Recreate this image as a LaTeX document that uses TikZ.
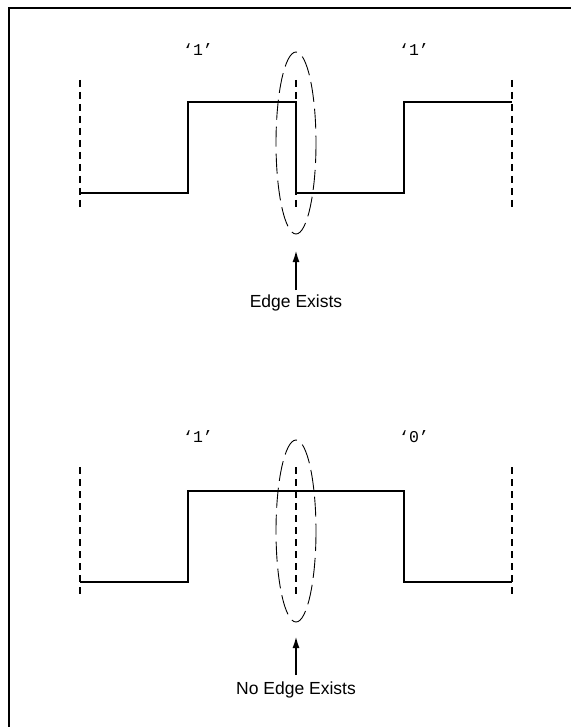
\documentclass[tikz,border=0pt]{standalone}
\usepackage{fontspec}
\setmainfont{Liberation Sans}
\newfontfamily\monof{Liberation Mono}
\usetikzlibrary{arrows.meta}
\begin{document}
\begin{tikzpicture}[x=1pt,y=-1pt,
  wave/.style={line width=2pt},
  marker/.style={line width=2pt,dash pattern=on 7pt off 5pt},
  ring/.style={line width=0.9pt,dash pattern=on 20pt off 7pt},
  bit/.style={font=\monof\fontsize{16.5}{18}\selectfont},
  caption/.style={font=\fontsize{17.5}{20}\selectfont},
  pointer/.style={line width=2pt,-{Latex[length=12pt,width=7pt]}}]
\useasboundingbox (0,0) rectangle (571,727);
\draw[line width=2pt] (8.5,727) -- (8.5,8.5) -- (571,8.5);
% top waveform
\draw[wave] (80,193) -- (188,193) -- (188,102) -- (296,102) -- (296,193) -- (404,193) -- (404,102) -- (512,102);
\foreach \x in {80,296,512} \draw[marker] (\x,80) -- (\x,208);
\node[bit] (b1) at (198,50) {‘1’};
\node[bit] (b2) at (414,50) {‘1’};
\draw[ring] (296,143) ellipse [x radius=20, y radius=91];
\coordinate (t1) at (296,250);
\node[caption] (c1) at (296,303) {Edge Exists};
\draw[pointer] (296,290) -- (t1);
% bottom waveform
\draw[wave] (80,582) -- (188,582) -- (188,491) -- (404,491) -- (404,582) -- (512,582);
\foreach \x in {80,296,512} \draw[marker] (\x,467) -- (\x,595);
\node[bit] (b3) at (198,437) {‘1’};
\node[bit] (b4) at (414,437) {‘0’};
\draw[ring] (296,531) ellipse [x radius=20, y radius=91];
\coordinate (t2) at (296,636);
\node[caption] (c2) at (296,690) {No Edge Exists};
\draw[pointer] (296,675) -- (t2);
\end{tikzpicture}
\end{document}
